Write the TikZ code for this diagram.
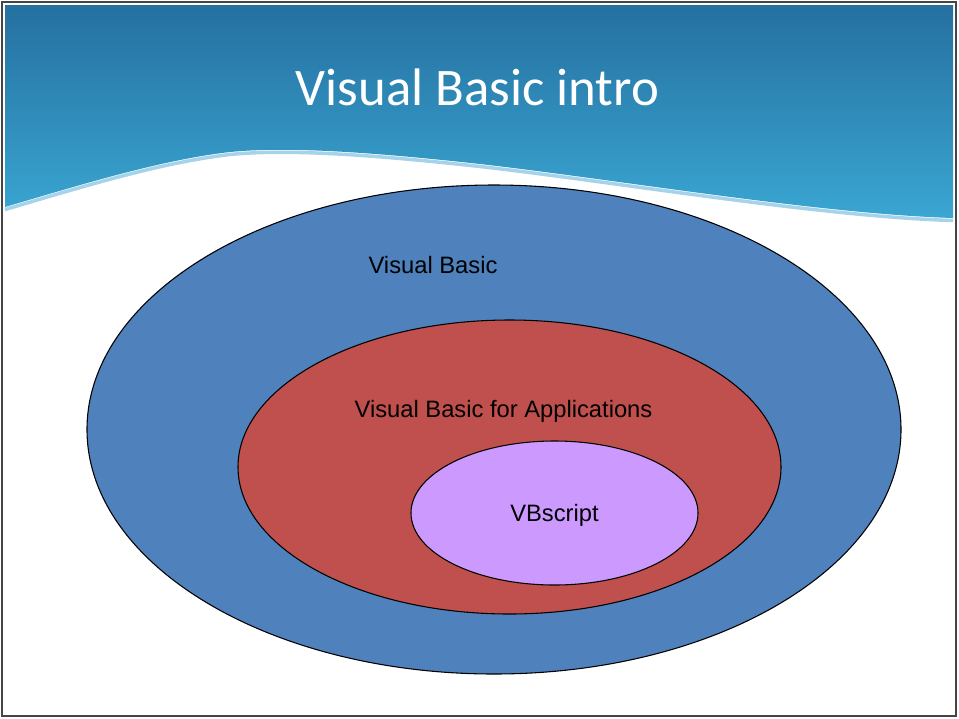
\documentclass[tikz,border=0pt]{standalone}
\usepackage{fontspec}
\setmainfont{Liberation Sans}
\newfontfamily\titlefont{Carlito}
\usetikzlibrary{positioning}
\definecolor{vbblue}{HTML}{4F81BD}
\definecolor{vbared}{HTML}{C0504D}
\definecolor{vbspurple}{HTML}{CC99FF}
\definecolor{headtop}{HTML}{2570A0}
\definecolor{headbottom}{HTML}{3AA6D2}
\definecolor{headstrip}{HTML}{A5D3EA}
\definecolor{framegray}{HTML}{454545}

\begin{document}
\begin{tikzpicture}[
    x=0.75pt, y=-0.75pt,
    ring/.style={draw=black, line width=0.8pt},
    lbl/.style={anchor=base, inner sep=0pt, text=black, font=\fontsize{17.8pt}{20pt}\selectfont},
    titletext/.style={anchor=base, inner sep=0pt, text=white, font=\titlefont\fontsize{39.6pt}{44pt}\selectfont}
  ]
  \useasboundingbox (0,0) rectangle (959,718);
  \fill[white] (0,0) rectangle (959,718);

  % header wave
  \draw[headstrip, line width=2.6pt, shift={(0,2.5)}]
    (953,218) .. controls (820,214) and (620,180) .. (480,164)
    .. controls (380,153) and (290,146) .. (230,152)
    .. controls (160,160) and (80,185) .. (5,207);
  \shade[top color=headtop, bottom color=headbottom]
    (5,5) -- (953,5) -- (953,218)
    .. controls (820,214) and (620,180) .. (480,164)
    .. controls (380,153) and (290,146) .. (230,152)
    .. controls (160,160) and (80,185) .. (5,207) -- cycle;
  \node[titletext] (title) at (477.5,105) {Visual Basic intro};

  % nested ellipses
  \draw[ring, fill=vbblue] (494,429.5) ellipse [x radius=407, y radius=244.5];
  \draw[ring, fill=vbared] (509.5,467) ellipse [x radius=271.5, y radius=147];
  \draw[ring, fill=vbspurple] (554.5,513) ellipse [x radius=143.5, y radius=72];

  \node[lbl] (vb) at (433,273) {Visual Basic};
  \node[lbl] (vba) at (503.5,417) {Visual Basic for Applications};
  \node[lbl] (vbs) at (554.5,521) {VBscript};

  \draw[framegray, line width=1.3pt] (2,2) rectangle (956,716);
\end{tikzpicture}
\end{document}
